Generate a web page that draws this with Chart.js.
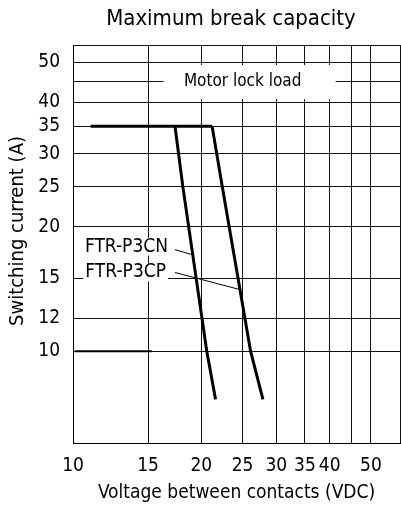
<!DOCTYPE html>
<html lang="en">
<head>
  <meta charset="UTF-8">
  <title>Maximum break capacity</title>
  <script src="https://cdn.jsdelivr.net/npm/chart.js@4.4.0/dist/chart.umd.min.js"></script>
  <style>
    html, body { margin: 0; padding: 0; background: #fff; }
    #wrap { width: 401px; height: 510px; }
  </style>
</head>
<body>
  <div id="wrap"><canvas id="chart"></canvas></div>

  <script>
    // axis ticks (log-log chart)
    const xTicks = [10, 15, 20, 25, 30, 35, 40, 45, 50, 58.5];
    const xTickLabels = ["10", "15", "20", "25", "30", "35", "40", "", "50", ""];
    const yTicks = [10, 12, 15, 20, 25, 30, 35, 40, 45, 50, 55];
    const yTickLabels = ["10", "12", "15", "20", "25", "30", "35", "40", "", "50", ""];

    // curves
    const limitX = [11, 21.2];
    const limitY = [35, 35];
    const cnX = [17.35, 18.1, 20.6, 21.6];
    const cnY = [35, 25, 10, 7.65];
    const cpX = [21.2, 22.4, 26.1, 27.9];
    const cpY = [35, 25, 10, 7.65];
    const baseX = [10.1, 15.3];
    const baseY = [10, 10];

    // leader lines for the labels
    const cnLeaderX = [17.35, 19.1];
    const cnLeaderY = [17.6, 17.1];
    const cpLeaderX = [17.35, 24.6];
    const cpLeaderY = [15.5, 14.1];

    const FONT = "'Liberation Sans Narrow', 'DejaVu Sans Condensed', 'Liberation Sans', sans-serif";

    const pts = (xs, ys) => xs.map((x, i) => ({ x: x, y: ys[i] }));

    function line(xs, ys, width) {
      return {
        data: pts(xs, ys),
        borderColor: "#000",
        borderWidth: width,
        pointRadius: 0,
        fill: false,
        tension: 0
      };
    }

    // white-backed label, right aligned at (px, py)
    function label(ctx, text, px, py) {
      const w = ctx.measureText(text).width;
      ctx.fillStyle = "#fff";
      ctx.fillRect(px - w - 2, py - 9, w + 4, 18);
      ctx.fillStyle = "#000";
      ctx.fillText(text, px, py);
    }

    // text: title, Motor lock load box, curve labels, y title
    const notes = {
      id: "notes",
      beforeDatasetsDraw(chart) {
        const { ctx, scales: { x, y } } = chart;
        const cx = x.getPixelForValue(25);
        const cy = y.getPixelForValue(45);
        ctx.save();
        ctx.fillStyle = "#fff";
        ctx.fillRect(cx - 79, cy - 16, 172, 34);
        ctx.fillStyle = "#000";
        ctx.font = "17px " + FONT;
        ctx.textAlign = "center";
        ctx.textBaseline = "middle";
        ctx.fillText("Motor lock load", cx, cy + 1);

        ctx.textAlign = "right";
        ctx.font = "19px " + FONT;
        label(ctx, "FTR-P3CN", x.getPixelForValue(cnLeaderX[0]) - 7, y.getPixelForValue(cnLeaderY[0]) - 3);
        label(ctx, "FTR-P3CP", x.getPixelForValue(cpLeaderX[0]) - 9, y.getPixelForValue(cpLeaderY[0]));
        ctx.restore();
      },
      afterDraw(chart) {
        const { ctx } = chart;
        ctx.save();
        ctx.fillStyle = "#000";
        ctx.textBaseline = "middle";
        ctx.textAlign = "center";
        ctx.font = "22px " + FONT;
        ctx.fillText("Maximum break capacity", 231, 19);

        // y axis title
        ctx.translate(18, 231);
        ctx.rotate(-Math.PI / 2);
        ctx.font = "20px " + FONT;
        ctx.fillText("Switching current (A)", 0, 0);
        ctx.restore();
      }
    };

    new Chart(document.getElementById("chart"), {
      type: "line",
      data: {
        datasets: [
          line(limitX, limitY, 3),
          line(cnX, cnY, 3),
          line(cpX, cpY, 3),
          line(baseX, baseY, 2),
          line(cnLeaderX, cnLeaderY, 1),
          line(cpLeaderX, cpLeaderY, 1)
        ]
      },
      options: {
        responsive: true,
        maintainAspectRatio: false,
        animation: false,
        layout: { padding: { top: 45, right: 1 } },
        plugins: {
          legend: { display: false },
          tooltip: { enabled: false }
        },
        scales: {
          x: {
            type: "logarithmic",
            min: 10,
            max: 58.5,
            afterBuildTicks: s => { s.ticks = xTicks.map(v => ({ value: v })); },
            afterFit: s => { s.height = 67; },
            ticks: {
              autoSkip: false,
              maxRotation: 0,
              padding: 0,
              color: "#000",
              font: { family: FONT, size: 19 },
              callback: (v, i) => xTickLabels[i]
            },
            grid: { color: "#111", lineWidth: 1, drawTicks: true, tickLength: 12, tickColor: "rgba(0,0,0,0)" },
            border: { color: "#000", width: 1 },
            title: {
              display: true,
              text: "Voltage between contacts (VDC)",
              color: "#000",
              font: { family: FONT, size: 19 },
              padding: { top: 0, bottom: 6 }
            }
          },
          y: {
            type: "logarithmic",
            min: 6,
            max: 55,
            afterBuildTicks: s => { s.ticks = yTicks.map(v => ({ value: v })); },
            afterFit: s => { s.width = 73; },
            ticks: {
              autoSkip: false,
              padding: 13,
              color: "#000",
              font: { family: FONT, size: 19 },
              callback: (v, i) => yTickLabels[i]
            },
            grid: { color: "#111", lineWidth: 1, drawTicks: false },
            border: { color: "#000", width: 1 }
          }
        }
      },
      plugins: [notes]
    });
  </script>
</body>
</html>
